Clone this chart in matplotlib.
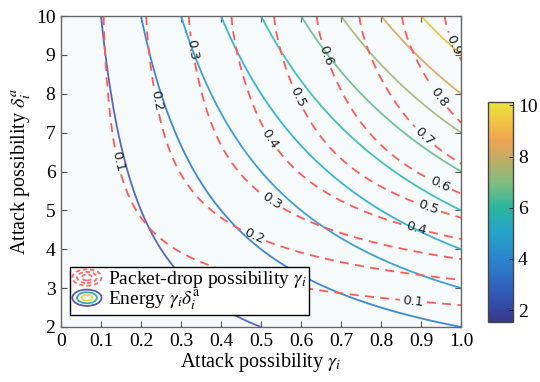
import numpy as np
import matplotlib
matplotlib.use("Agg")
import matplotlib.pyplot as plt
from matplotlib.colors import LinearSegmentedColormap, Normalize
from matplotlib.cm import ScalarMappable
from matplotlib.legend_handler import HandlerBase
from matplotlib.patches import Ellipse

plt.rcParams['font.family'] = ['Liberation Serif', 'DejaVu Serif']
plt.rcParams['mathtext.fontset'] = 'stix'

# ---------------- data ----------------
gamma = np.linspace(0.0, 1.0, 401)          # attack possibility gamma_i
delta = np.linspace(2.0, 10.0, 401)         # attack possibility delta_i^a
energy_levels = [1, 2, 3, 4, 5, 6, 7, 8, 9]
energy_colors = ['#5767c6', '#3f88d8', '#3e9fda', '#3ab4d6', '#42c0bc',
                 '#72c29c', '#aabd84', '#deac68', '#ecc24a']
drop_levels = [0.1, 0.2, 0.3, 0.4, 0.5, 0.6, 0.7, 0.8, 0.9]
# packet-drop factor g(delta) (P = gamma * g(delta))
g_delta = [2.0, 2.566, 3.21, 3.74, 4.26, 4.84, 5.40, 6.22, 7.25, 8.87, 10.0]
g_value = [0.055, 0.1, 0.2, 0.3, 0.4, 0.5, 0.6, 0.7, 0.8, 0.9, 0.939]
xtick_vals = [0, 0.1, 0.2, 0.3, 0.4, 0.5, 0.6, 0.7, 0.8, 0.9, 1.0]
xtick_labels = ['0', '0.1', '0.2', '0.3', '0.4', '0.5', '0.6', '0.7', '0.8', '0.9', '1.0']
ytick_vals = [2, 3, 4, 5, 6, 7, 8, 9, 10]
cbar_ticks = [2, 4, 6, 8, 10]
label_pos = [(0.135, 6.25), (0.88, 2.6), (0.23, 7.8), (0.48, 4.31),
             (0.318, 9.12), (0.523, 5.19), (0.51, 6.77), (0.885, 4.45),
             (0.585, 7.88), (0.915, 5.01), (0.652, 8.95), (0.94, 5.54),
             (0.90, 6.81), (0.94, 7.88), (0.97, 9.2)]

# ---------------- colormap (parula-like) ----------------
parula = LinearSegmentedColormap.from_list('parula_like', [
    (0.00, '#38378a'), (0.10, '#3352b0'), (0.25, '#2c7ccb'),
    (0.40, '#26a2cb'), (0.52, '#2cb59e'), (0.63, '#80bd7e'),
    (0.75, '#c8ab62'), (0.83, '#f0a450'), (0.93, '#f0cb42'),
    (1.00, '#e8e63a')])
norm = Normalize(vmin=1.55, vmax=10.15)

G, D = np.meshgrid(gamma, delta)
E = G * D
gfit = np.polyfit(g_delta, g_value, 5)
P = G * np.polyval(gfit, D)

fig = plt.figure(figsize=(5.4, 3.82), dpi=100)
ax = fig.add_axes([0.113, 0.144, 0.741, 0.814])
ax.set_facecolor('#f7fafa')

cs_e = ax.contour(G, D, E, levels=energy_levels, colors=energy_colors,
                  linewidths=1.3)
cs_p = ax.contour(G, D, P, levels=drop_levels, colors='#ff5a5a',
                  linewidths=1.3, linestyles=[(0, (5, 3.5))])
with plt.rc_context({'font.family': 'DejaVu Sans'}):
    ax.clabel(cs_p, manual=label_pos, fmt='%.1f', fontsize=9.5,
              inline=True, inline_spacing=3, colors='#222222')

ax.set_xlim(0, 1.0)
ax.set_ylim(2, 10)
ax.set_xticks(xtick_vals)
ax.set_xticklabels(xtick_labels)
ax.set_yticks(ytick_vals)
ax.tick_params(direction='in', top=True, right=True, length=4, width=0.8,
               color='#555555', labelsize=14, pad=4)
for s in ax.spines.values():
    s.set_color('#666666')
    s.set_linewidth(1.0)
ax.set_xlabel(r'Attack possibility $\gamma_i$', fontsize=14.5, labelpad=1)
ax.set_ylabel(r'Attack possibility $\delta_i^{a}$', fontsize=14.5, labelpad=2)


# ---------------- legend ----------------
class RingHandler(HandlerBase):
    def __init__(self, colors, dashed):
        super().__init__()
        self.colors = colors
        self.dashed = dashed

    def create_artists(self, legend, orig_handle, xdescent, ydescent,
                       width, height, fontsize, trans):
        cx = width / 2 - xdescent
        cy = height / 2 - ydescent
        arts = []
        for i, c in enumerate(self.colors):
            sc = 1.0 - 0.32 * i
            e = Ellipse((cx, cy), width * sc, height * 1.2 * sc, fill=False,
                        edgecolor=c, lw=1.3,
                        ls=(0, (2.5, 1.5)) if self.dashed else '-',
                        transform=trans)
            arts.append(e)
        return arts


class H1: pass
class H2: pass
h1, h2 = H1(), H2()
leg = ax.legend([h1, h2],
                [r'Packet-drop possibility $\gamma_i$',
                 r'Energy $\gamma_i\delta_i^{\rm a}$'],
                handler_map={H1: RingHandler(['#ff6a6a', '#ff6a6a', '#ff6a6a'], True),
                             H2: RingHandler(['#5858b0', '#30b0a8', '#e8d840'], False)},
                loc='lower left', bbox_to_anchor=(0.0225, 0.0386),
                borderaxespad=0, fontsize=14, frameon=True, fancybox=False,
                framealpha=1, edgecolor='black', handlelength=1.5,
                handletextpad=0.35, labelspacing=-0.1, borderpad=0.12)
leg.get_frame().set_linewidth(1.0)

# ---------------- colorbar ----------------
cax = fig.add_axes([0.904, 0.158, 0.046, 0.576])
sm = ScalarMappable(norm=norm, cmap=parula)
cb = fig.colorbar(sm, cax=cax, ticks=cbar_ticks)
cb.ax.tick_params(labelsize=14, direction='in', length=3, width=0.6)
cb.outline.set_edgecolor('#444444')
cb.outline.set_linewidth(1.0)

fig.savefig('out.png', dpi=100)
